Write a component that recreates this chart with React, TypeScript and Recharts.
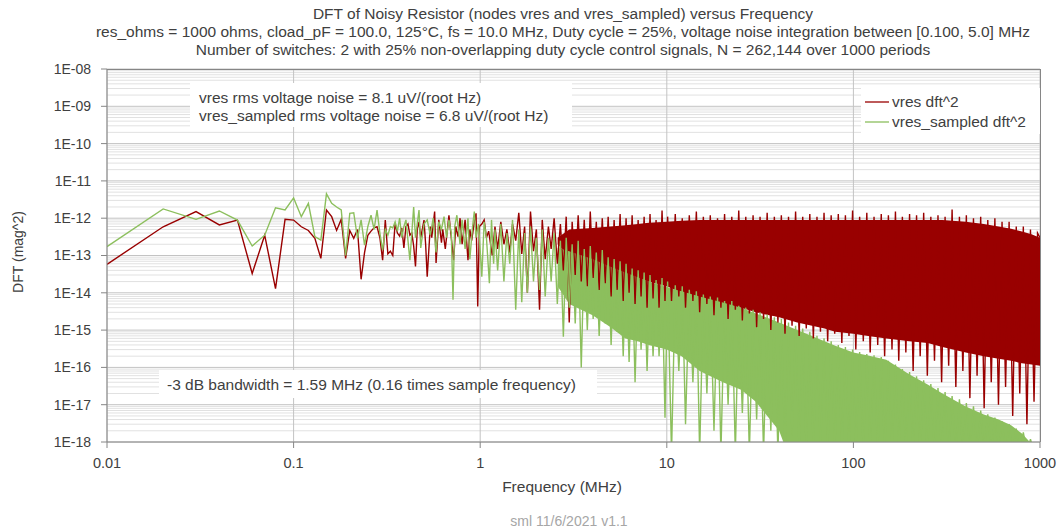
import React from "react";
import { ComposedChart, Line, Area, XAxis, YAxis, CartesianGrid, Legend } from "recharts";

const FONT = "'Liberation Sans', Arial, sans-serif";
const RED = "#990000";
const GREEN = "#8cbf5d";
const TEXT = "#404040";

const xTicks = [0.01, 0.1, 1, 10, 100, 1000];
const xTickLabels = ["0.01", "0.1", "1", "10", "100", "1000"];
const yTicks = [1e-18, 1e-17, 1e-16, 1e-15, 1e-14, 1e-13, 1e-12, 1e-11, 1e-10, 1e-9, 1e-8];
const yTickLabels = ["1E-18", "1E-17", "1E-16", "1E-15", "1E-14", "1E-13", "1E-12", "1E-11", "1E-10", "1E-09", "1E-08"];

const titleLines = [
  "DFT of Noisy Resistor (nodes vres and vres_sampled) versus Frequency",
  "res_ohms = 1000 ohms, cload_pF = 100.0, 125°C, fs = 10.0 MHz, Duty cycle = 25%, voltage noise integration between [0.100, 5.0] MHz",
  "Number of switches: 2 with 25% non-overlapping duty cycle control signals, N = 262,144 over 1000 periods",
];
const noiseNotes = [
  "vres rms voltage noise = 8.1 uV/(root Hz)",
  "vres_sampled rms voltage noise = 6.8 uV/(root Hz)",
];
const bandwidthNote = "-3 dB bandwidth = 1.59 MHz (0.16 times sample frequency)";

// first bins, 0.01 MHz apart
const lfFreq = [0.01, 0.02, 0.03, 0.04, 0.05, 0.06, 0.07, 0.08, 0.09, 0.1, 0.11, 0.12, 0.13, 0.14, 0.15, 0.16, 0.17, 0.18, 0.19, 0.2];
const lfRed = [5.8e-14, 5.9e-13, 1.5e-12, 6.6e-13, 8.9e-13, 3.3e-14, 3.5e-13, 1.3e-14, 9.3e-13, 8.9e-13, 5.9e-13, 4.7e-13, 2.9e-13, 8.4e-14, 1.66e-12, 1.1e-12, 4.7e-13, 9.3e-13, 8.4e-14, 4.7e-13];
const lfGreen = [1.72e-13, 1.77e-12, 9.3e-13, 1.56e-12, 8.9e-13, 1.8e-13, 3.5e-13, 1.9e-12, 1.66e-12, 3.5e-12, 1.1e-12, 2.5e-12, 3.2e-13, 2.6e-13, 4.5e-12, 2.5e-12, 2e-12, 1.66e-12, 1e-13, 1.35e-12];

// 0.2 .. 1.2 MHz
const redMidFreq = [0.21, 0.22, 0.23, 0.24, 0.25, 0.26, 0.27, 0.28, 0.29, 0.3, 0.31, 0.32, 0.33, 0.34, 0.35, 0.36, 0.37, 0.38, 0.39, 0.4, 0.41, 0.42, 0.43, 0.44, 0.45, 0.46, 0.47, 0.48,
  0.5, 0.51, 0.52, 0.54, 0.55, 0.57, 0.58, 0.6, 0.62, 0.63, 0.65, 0.68, 0.7, 0.72, 0.74, 0.76, 0.78, 0.8, 0.83, 0.86, 0.88, 0.9, 0.93, 0.95, 0.97, 0.99, 1.02, 1.05, 1.08, 1.11, 1.16];
const redMid = [2.9e-13, 5e-13, 2.3e-14, 1.2e-13, 3.5e-13, 4.5e-13, 5.5e-13, 5.9e-13, 3e-13, 7.5e-14, 8.9e-13, 1.1e-13, 1.3e-13, 1e-13, 7.2e-13, 4e-13, 3.3e-13, 5.5e-13, 1.6e-13, 6e-13, 7e-13, 3.5e-13, 4e-13, 1.8e-13, 5.1e-14, 5e-13, 8e-13, 3e-13,
  8.9e-13, 2e-13, 2.7e-14, 6e-13, 3e-13, 1.5e-12, 6.3e-14, 9e-13, 2.2e-13, 5e-13, 1.5e-13, 1.2e-12, 3e-13, 7.5e-14, 6e-13, 3.2e-13, 1e-12, 2e-13, 9e-13, 7.5e-14, 5e-13, 2.5e-13, 8e-13, 1.35e-12, 4.3e-15, 6e-13, 7e-13, 9e-13, 3e-13, 4.5e-13, 1e-13];
const greenMidFreq = [0.21, 0.22, 0.23, 0.24, 0.25, 0.26, 0.27, 0.28, 0.29, 0.3, 0.31, 0.32, 0.33, 0.34, 0.35, 0.36, 0.37, 0.38, 0.39, 0.4,
  0.42, 0.44, 0.45, 0.47, 0.48, 0.5, 0.52, 0.54, 0.56, 0.58, 0.6, 0.62, 0.64, 0.66, 0.68, 0.7, 0.715, 0.73, 0.75, 0.78,
  0.8, 0.83, 0.86, 0.88, 0.91, 0.93, 0.95, 0.98, 1.02, 1.05, 1.08, 1.12, 1.15, 1.18];
const greenMid = [1.4e-12, 2.9e-13, 9e-13, 1.9e-13, 6e-13, 1.2e-12, 5e-13, 1.66e-12, 4e-13, 1.4e-13, 5e-13, 3.5e-13, 6e-13, 5.5e-13, 8e-13, 4.5e-13, 1e-12, 3e-13, 6e-13, 9e-13,
  7.5e-14, 2e-12, 3e-13, 1.66e-12, 1.6e-13, 7e-13, 9e-13, 3.5e-13, 1e-12, 1.2e-13, 8e-13, 5e-13, 1.1e-12, 3e-13, 9e-13, 4e-13, 6.5e-15, 6e-13, 1.2e-12, 2e-13,
  9e-13, 1.5e-13, 1e-12, 8e-14, 6e-13, 1.5e-12, 3e-13, 7e-13, 2.7e-14, 8e-13, 3e-13, 1.8e-14, 9e-13, 6e-14];

// dense part, 1.2 .. 1000 MHz (peaks and dips)
const denseFreq = [
  1.2, 1.24, 1.29, 1.34, 1.39, 1.44, 1.49, 1.55, 1.61, 1.67, 1.73, 1.79, 1.86, 1.93, 2.0, 2.08, 2.15, 2.23, 2.32, 2.4,
  2.49, 2.59, 2.69, 2.79, 2.89, 3.0, 3.11, 3.23, 3.35, 3.48, 3.61, 3.75, 3.89, 4.03, 4.19, 4.34, 4.51, 4.68, 4.85, 5.03,
  5.22, 5.42, 5.62, 5.84, 6.05, 6.28, 6.52, 6.76, 7.02, 7.28, 7.56, 7.84, 8.13, 8.44, 8.76, 9.09, 9.43, 9.78,
  10.1, 10.6, 11.1, 11.6, 12.1, 12.6, 13.2, 13.8, 14.4, 15.0, 15.7, 16.4, 17.1, 17.9, 18.7, 19.5, 20.4, 21.3, 22.3, 23.3,
  24.3, 25.4, 26.5, 27.7, 29.0, 30.3, 31.6, 33.0, 34.5, 36.1, 37.7, 39.4, 41.1, 43.0, 44.9, 46.9, 49.0, 51.2, 53.5, 55.9,
  58.4, 61.0, 63.8, 66.6, 69.6, 72.8, 76.0, 79.4, 83.0, 86.7, 90.6, 94.7, 99.0,
  103, 108, 113, 118, 123, 129, 135, 141, 147, 154, 161, 168, 175, 183, 191, 200, 209, 218, 228, 238,
  249, 260, 272, 284, 297, 310, 324, 338, 354, 370, 386, 403, 421, 440, 460, 481, 502, 525, 548, 573,
  599, 626, 654, 683, 714, 746, 779, 814, 851, 889, 929, 970, 1000,
];
const denseRed = [
  6e-13, 1.5e-13, 8e-13, 2e-13, 5e-13, 1.2e-13, 7e-13, 2.5e-13, 1.4e-12, 1.1e-13,
  6e-13, 1e-14, 1.5e-12, 1.3e-13, 5e-13, 3.5e-15, 9e-13, 8e-14, 6e-13, 1.5e-13,
  1e-12, 6e-14, 7e-13, 4e-14, 1.1e-12, 1.6e-15, 8e-13, 3e-14, 1.2e-12, 2e-14,
  9e-13, 1.5e-14, 1.5e-12, 2.5e-14, 8e-13, 1.2e-14, 1e-12, 1.8e-14, 1.1e-12, 8e-15,
  9e-13, 1.2e-14, 1.3e-12, 6e-15, 1e-12, 1e-14, 1.2e-12, 5e-15, 9e-13, 8e-15,
  1.1e-12, 4e-15, 1.3e-12, 7e-15, 9e-13, 4e-15, 1.6e-12, 6e-15,
  1.1e-12, 6e-15, 1.3e-12, 8e-15, 1e-12, 4e-15, 1.2e-12, 6e-15, 1.5e-12, 3e-15,
  1.1e-12, 5e-15, 1.2e-12, 2.5e-15, 1e-12, 4e-15, 1.3e-12, 2e-15, 1.1e-12, 3.5e-15,
  1.6e-12, 1.8e-15, 1.1e-12, 2.8e-15, 1.2e-12, 1.2e-15, 1.1e-12, 2e-15, 1.4e-12, 1e-15,
  1.1e-12, 1.6e-15, 1.2e-12, 8e-16, 1.1e-12, 1.3e-15, 1.5e-12, 7e-16, 1.1e-12, 1.1e-15,
  1.3e-12, 6e-16, 1.1e-12, 9e-16, 1.4e-12, 5e-16, 1.2e-12, 8e-16, 1.3e-12, 4.5e-16,
  1.2e-12, 7e-16, 1.6e-12,
  3e-16, 1.1e-12, 5e-16, 1.4e-12, 2.5e-16, 1.1e-12, 4e-16, 1.3e-12, 2e-16, 1.2e-12,
  3e-16, 1.5e-12, 1.5e-16, 1.1e-12, 2.5e-16, 1.3e-12, 8e-17, 1.2e-12, 2e-16, 1.4e-12,
  6e-17, 1.1e-12, 1.5e-16, 1.2e-12, 4e-17, 1.1e-12, 1.1e-16, 1.7e-12, 3e-17, 1.1e-12,
  8e-17, 1.2e-12, 1.5e-17, 1e-12, 6e-17, 1.1e-12, 8e-18, 9e-13, 4e-17, 1e-12,
  1e-17, 8e-13, 3e-17, 8e-13, 5e-18, 6e-13, 2e-17, 6e-13, 3e-18, 5e-13,
  1.2e-17, 4e-13, 3e-13,
];
const denseGreen = [
  5e-13, 4e-14, 7e-13, 2e-14, 4e-13, 6e-14, 9e-13, 3.5e-15, 5e-13, 5.6e-15,
  4e-13, 1e-14, 6e-13, 2e-14, 3e-13, 1.2e-14, 5e-13, 8e-15, 3e-13, 2e-14,
  4e-13, 5e-15, 2.5e-13, 6.6e-16, 3e-13, 4e-15, 2e-13, 1.5e-15, 2.5e-13, 1e-16,
  1.5e-13, 1e-15, 1.8e-13, 2e-15, 1.2e-13, 7e-16, 1.4e-13, 1.5e-15, 9e-14, 4e-16,
  8e-14, 9e-16, 7e-14, 2e-16, 6e-14, 1.4e-16, 4.5e-14, 4e-17, 4e-14, 3e-16,
  3.5e-14, 8e-17, 3e-14, 2e-16, 2.2e-14, 2e-16, 2.5e-14, 4.5e-18,
  2e-14, 5e-19, 1.6e-14, 8e-17, 1.5e-14, 3e-18, 1.2e-14, 4e-17, 1.1e-14, 5e-19,
  9e-15, 2e-17, 8e-15, 2e-18, 7.5e-15, 5e-19, 6e-15, 1e-17, 6e-15, 5e-19,
  4.5e-15, 6e-18, 4e-15, 5e-19, 3.5e-15, 4e-18, 3e-15, 5e-19, 2.6e-15, 2e-18,
  2.2e-15, 5e-19, 2e-15, 5e-19, 1.6e-15, 1.5e-18, 1.3e-15, 5e-19, 1.1e-15, 5e-19,
  9e-16, 5e-19, 7e-16, 5e-19, 6e-16, 5e-19, 5e-16, 5e-19, 4e-16, 5e-19,
  3.5e-16, 5e-19, 3e-16,
  5e-19, 2.6e-16, 5e-19, 2.3e-16, 5e-19, 2.1e-16, 5e-19, 1.9e-16, 5e-19, 1.5e-16,
  5e-19, 1.2e-16, 5e-19, 9e-17, 5e-19, 7.5e-17, 5e-19, 5.8e-17, 5e-19, 4.5e-17,
  5e-19, 3.6e-17, 5e-19, 2.8e-17, 5e-19, 2.2e-17, 5e-19, 1.7e-17, 5e-19, 1.4e-17,
  5e-19, 1.1e-17, 5e-19, 9e-18, 5e-19, 7e-18, 5e-19, 5.5e-18, 5e-19, 4.5e-18,
  5e-19, 3.6e-18, 5e-19, 3e-18, 5e-19, 2.3e-18, 5e-19, 1.8e-18, 5e-19, 1.2e-18,
  5e-19, 5e-19, 5e-19,
];

// solid body of each trace where the bins are too close to tell apart
const redBandFreq = [2.6, 3, 4, 5, 6, 7, 8, 10, 12, 15, 20, 25, 30, 40, 50, 60, 70, 80, 100, 120, 150, 200, 250, 300, 400, 500, 600, 700, 800, 900, 1000];
const redBandHigh = [3e-13, 5e-13, 5.5e-13, 6e-13, 6.5e-13, 7e-13, 7.5e-13, 8e-13, 8.5e-13, 9e-13, 9e-13, 9e-13, 9e-13, 9e-13, 9e-13, 9e-13, 9e-13, 9e-13, 9e-13, 9e-13, 9e-13, 9e-13, 9e-13, 9e-13, 8e-13, 7e-13, 6e-13, 5.2e-13, 4.4e-13, 3.7e-13, 3e-13];
const redBandLow = [2e-13, 1e-13, 6e-14, 4e-14, 3e-14, 2.5e-14, 2e-14, 1.5e-14, 1e-14, 7e-15, 5e-15, 4e-15, 3e-15, 2.2e-15, 1.6e-15, 1.3e-15, 1.1e-15, 9e-16, 8e-16, 7e-16, 6e-16, 5e-16, 4.5e-16, 3.5e-16, 2.5e-16, 2e-16, 1.7e-16, 1.5e-16, 1.3e-16, 1.2e-16, 1.1e-16];
const greenBandFreq = [2.6, 3, 4, 5, 6, 7, 8, 10, 12, 15, 20, 25, 30, 40, 50, 60, 70, 80, 100, 120, 150, 200, 250, 300, 400, 500, 600, 700, 800, 900, 1000];
const greenBandHigh = [1.6e-13, 1.3e-13, 8e-14, 5e-14, 3.5e-14, 2.6e-14, 2e-14, 1.4e-14, 1.1e-14, 8e-15, 5.5e-15, 4e-15, 2.8e-15, 1.6e-15, 1e-15, 7e-16, 5e-16, 3.8e-16, 2.5e-16, 2.1e-16, 1.6e-16, 6.5e-17, 3.5e-17, 2e-17, 9e-18, 5.5e-18, 4e-18, 2.8e-18, 1.7e-18, 9e-19, 5e-19];
const greenBandLow = [1.5e-14, 5e-15, 2.5e-15, 1.2e-15, 6e-16, 5e-16, 4e-16, 3e-16, 2e-16, 8e-17, 4e-17, 2.5e-17, 1.2e-17, 2e-18, 1e-19, 1e-19, 1e-19, 1e-19, 1e-19, 1e-19, 1e-19, 1e-19, 1e-19, 1e-19, 1e-19, 1e-19, 1e-19, 1e-19, 1e-19, 1e-19, 1e-19];

type Row = {
  f: number;
  vres?: number;
  sampled?: number;
  vresBand?: [number, number];
  sampledBand?: [number, number];
};

const table = new Map<number, Row>();
function put(f: number, patch: Partial<Row>) {
  const row = table.get(f) ?? { f };
  table.set(f, Object.assign(row, patch));
}
lfFreq.forEach((f, i) => put(f, { vres: lfRed[i], sampled: lfGreen[i] }));
redMidFreq.forEach((f, i) => put(f, { vres: redMid[i] }));
greenMidFreq.forEach((f, i) => put(f, { sampled: greenMid[i] }));
denseFreq.forEach((f, i) => put(f, { vres: denseRed[i], sampled: denseGreen[i] }));
redBandFreq.forEach((f, i) => put(f, { vresBand: [redBandLow[i], redBandHigh[i]] }));
greenBandFreq.forEach((f, i) => put(f, { sampledBand: [greenBandLow[i], greenBandHigh[i]] }));
const data = Array.from(table.values()).sort((a, b) => a.f - b.f);

const minorY = yTicks.slice(0, -1).flatMap((d) => [2, 3, 4, 5, 6, 7, 8, 9].map((m) => m * d));

function LegendBox(props: any) {
  const payload = (props.payload ?? []).filter((p: any) => p.type !== "none");
  return (
    <div style={{ background: "#fff", width: 179, height: 46, paddingTop: 4, boxSizing: "border-box", fontFamily: FONT, fontSize: 15.5, color: TEXT }}>
      {payload.map((p: any) => (
        <div key={p.value} style={{ display: "flex", alignItems: "center", height: 20 }}>
          <svg width={31} height={10}>
            <line x1={4} y1={5} x2={28} y2={5} stroke={p.color} strokeWidth={1.3} />
          </svg>
          <span>{p.value}</span>
        </div>
      ))}
    </div>
  );
}

export default function App() {
  return (
    <div style={{ position: "absolute", left: 0, top: 0, width: 1059, height: 531, background: "#fff" }}>
      <ComposedChart width={1059} height={531} data={data} margin={{ top: 69, right: 19, bottom: 59, left: 0 }}>
        <CartesianGrid horizontalValues={minorY} vertical={false} stroke="#e1e1e1" />
        <CartesianGrid horizontalValues={yTicks} verticalValues={xTicks} stroke="#c3c3c3" />
        <XAxis
          dataKey="f"
          type="number"
          scale="log"
          domain={[0.01, 1000]}
          allowDataOverflow
          ticks={xTicks}
          interval={0}
          tickFormatter={(v: number) => xTickLabels[xTicks.indexOf(v)] ?? String(v)}
          height={30}
          tickSize={6}
          tickMargin={10}
          axisLine={{ stroke: "#868686" }}
          tickLine={{ stroke: "#868686" }}
          tick={{ fill: TEXT, fontSize: 14.5, fontFamily: FONT }}
        />
        <YAxis
          type="number"
          scale="log"
          domain={[1e-18, 1e-8]}
          allowDataOverflow
          ticks={yTicks}
          interval={0}
          tickFormatter={(v: number) => yTickLabels[yTicks.indexOf(v)] ?? String(v)}
          width={107}
          tickSize={6}
          tickMargin={10}
          axisLine={{ stroke: "#868686" }}
          tickLine={{ stroke: "#868686" }}
          tick={{ fill: TEXT, fontSize: 14, fontFamily: FONT }}
        />
        <Area dataKey="vresBand" type="linear" stroke="none" fill={RED} fillOpacity={1} connectNulls legendType="none" dot={false} activeDot={false} isAnimationActive={false} />
        <Line dataKey="vres" name="vres dft^2" type="linear" stroke={RED} strokeWidth={1.4} dot={false} activeDot={false} connectNulls isAnimationActive={false} />
        <Area dataKey="sampledBand" type="linear" stroke="none" fill={GREEN} fillOpacity={1} connectNulls legendType="none" dot={false} activeDot={false} isAnimationActive={false} />
        <Line dataKey="sampled" name="vres_sampled dft^2" type="linear" stroke={GREEN} strokeWidth={1.4} dot={false} activeDot={false} connectNulls isAnimationActive={false} />
        <Legend layout="vertical" align="center" verticalAlign="middle" content={LegendBox} wrapperStyle={{ left: 861, top: 88, width: 179 }} />
      </ComposedChart>
      <svg width={1059} height={531} style={{ position: "absolute", left: 0, top: 0, pointerEvents: "none" }} fontFamily={FONT}>
        {titleLines.map((t, i) => (
          <text key={t} x={563} y={13 + i * 18} textAnchor="middle" dominantBaseline="central" fontSize={15.5} fill={TEXT}>
            {t}
          </text>
        ))}
        <line x1={107} y1={69.5} x2={1040} y2={69.5} stroke="#868686" />
        <line x1={1040.5} y1={69} x2={1040.5} y2={442} stroke="#868686" />
        <rect x={190} y={83} width={382} height={44} fill="#fff" />
        {noiseNotes.map((t, i) => (
          <text key={t} x={199} y={97 + i * 18} dominantBaseline="central" fontSize={15.5} fill={TEXT}>
            {t}
          </text>
        ))}
        <rect x={159} y={370} width={438} height={28} fill="#fff" />
        <text x={167} y={384} dominantBaseline="central" fontSize={15.5} fill={TEXT}>
          {bandwidthNote}
        </text>
        <text x={18} y={252} transform="rotate(-90 18 252)" textAnchor="middle" dominantBaseline="central" fontSize={14} fill={TEXT}>
          DFT (mag^2)
        </text>
        <text x={562} y={486} textAnchor="middle" dominantBaseline="central" fontSize={15.5} fill={TEXT}>
          Frequency (MHz)
        </text>
        <text x={569} y={521} textAnchor="middle" dominantBaseline="central" fontSize={14} fill="#a6a6a6">
          sml 11/6/2021 v1.1
        </text>
      </svg>
    </div>
  );
}
